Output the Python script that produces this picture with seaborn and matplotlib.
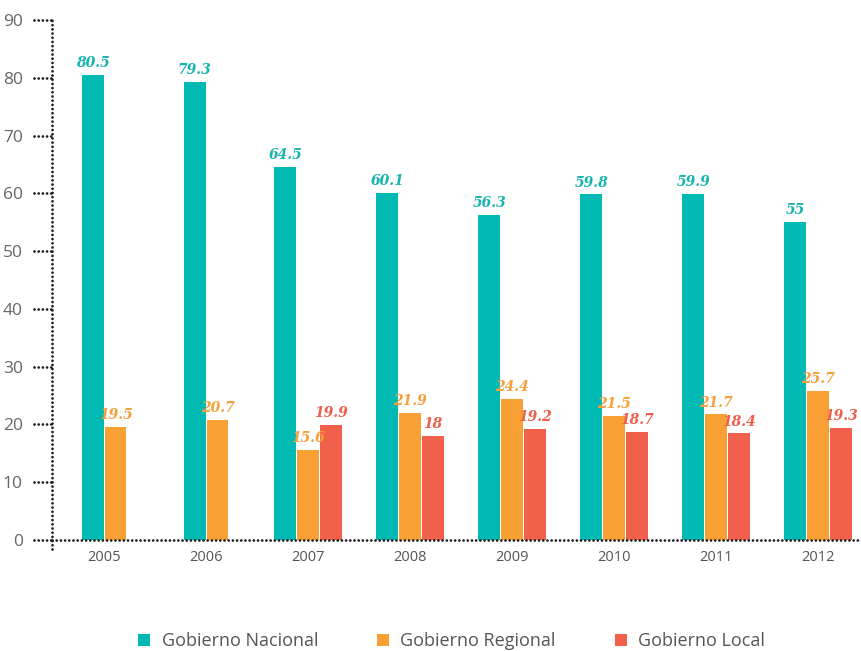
import numpy as np
import pandas as pd
import matplotlib
matplotlib.use("Agg")
import matplotlib.pyplot as plt
from matplotlib.lines import Line2D
import seaborn as sns

years = ["2005", "2006", "2007", "2008", "2009", "2010", "2011", "2012"]
series = ["Gobierno Nacional", "Gobierno Regional", "Gobierno Local"]
nacional = [80.5, 79.3, 64.5, 60.1, 56.3, 59.8, 59.9, 55]
regional = [19.5, 20.7, 15.6, 21.9, 24.4, 21.5, 21.7, 25.7]
local = [None, None, 19.9, 18, 19.2, 18.7, 18.4, 19.3]
colors = ["#00b9b3", "#f8a033", "#f1604a"]
label_colors = ["#17b5b0", "#f5a03a", "#ee5f4b"]
y_ticks = [0, 10, 20, 30, 40, 50, 60, 70, 80, 90]

sns.set_theme(style="white")
plt.rcParams["font.family"] = ["Open Sans", "DejaVu Sans"]

# long table; groups with fewer series are centred on their year
rows = []
step = 0.225
for i, yr in enumerate(years):
    vals = (nacional[i], regional[i], local[i])
    present = [(s, v) for s, v in zip(series, vals) if v is not None]
    n = len(present)
    for j, (s, v) in enumerate(present):
        rows.append({"year": yr, "serie": s, "valor": v,
                     "pos": round(i + (j - (n - 1) / 2) * step, 4)})
df = pd.DataFrame(rows)

fig = plt.figure(figsize=(8.62, 6.51), dpi=100)
ax = fig.add_axes([52 / 862, 1 - 549 / 651, 1 - 52 / 862, (549 - 20) / 651])

sns.barplot(data=df, x="pos", y="valor", hue="serie", hue_order=series,
            palette=colors, native_scale=True, dodge=False, width=0.955,
            saturation=1, linewidth=0, ax=ax, legend=False, errorbar=None)

ax.set_xlim(-0.51, 7.43)
ax.set_ylim(-1.6, 90)

# value labels above each bar
for _, r in df.iterrows():
    c = label_colors[series.index(r["serie"])]
    ax.annotate(f"{r['valor']:g}", (r["pos"], r["valor"]), xytext=(0, 3.5),
                textcoords="offset points", ha="center", va="bottom",
                fontsize=10, fontweight="heavy", fontstyle="italic",
                family="DejaVu Serif", color=c)

# dotted axes
for sp in ["top", "right", "bottom", "left"]:
    ax.spines[sp].set_visible(False)
dot = dict(color="#1e1e1e", linewidth=2.0, linestyle=(0, (0.01, 1.5)),
           dash_capstyle="round")
ax.plot([0, 0], [0, 1], transform=ax.transAxes, clip_on=False, **dot)
ax.plot([0, 1], [0, 0], transform=ax.get_yaxis_transform(), clip_on=False,
        **dot)

# dotted tick marks
for t in y_ticks:
    ax.add_line(Line2D([-18 / 810, 0], [t, t], transform=ax.get_yaxis_transform(),
                       clip_on=False, **dot))

ax.set_yticks(y_ticks)
ax.set_yticklabels([str(t) for t in y_ticks])
ax.tick_params(axis="y", length=0, pad=21, labelsize=12.5, labelcolor="#666666")
ax.set_xticks(range(len(years)))
ax.set_xticklabels(years)
ax.tick_params(axis="x", length=0, pad=1, labelsize=10.5, labelcolor="#555555")
ax.set_xlabel("")
ax.set_ylabel("")
ax.grid(False)

handles = [Line2D([], [], marker="s", linestyle="none", markersize=9,
                  markerfacecolor=c, markeredgewidth=0) for c in colors]
fig.legend(handles, series, loc="center", bbox_to_anchor=(0.522, 0.015),
           ncol=3, frameon=False, fontsize=13, labelcolor="#555555",
           columnspacing=3.1, handletextpad=0.45, handlelength=1.0)

fig.savefig("out.png", dpi=100)
